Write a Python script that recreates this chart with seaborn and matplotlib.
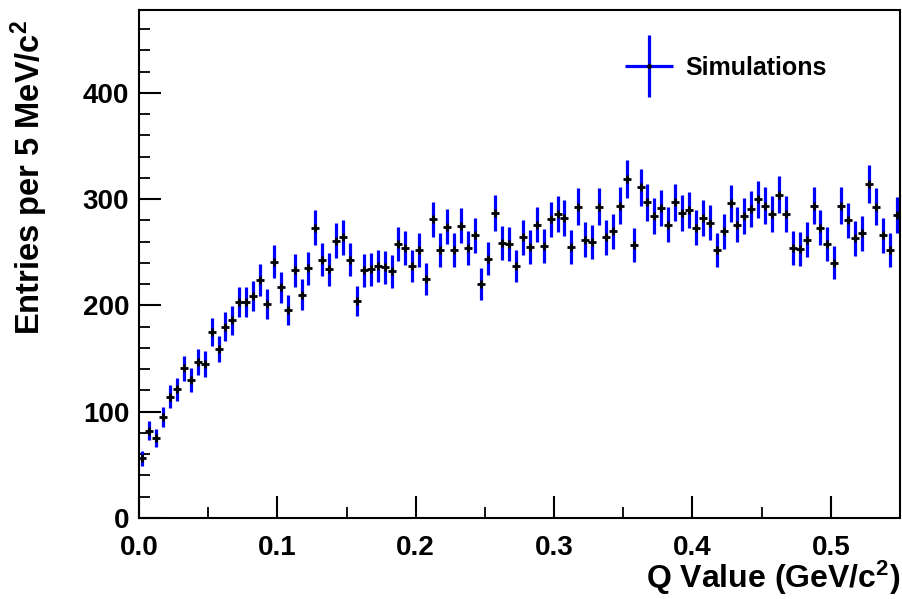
import numpy as np
import pandas as pd
import matplotlib
matplotlib.use("Agg")
import matplotlib.pyplot as plt
import seaborn as sns
from matplotlib.lines import Line2D
from matplotlib.legend_handler import HandlerTuple
from matplotlib.ticker import MultipleLocator, FormatStrFormatter

# ---- data ----
bin_width = 0.005
x_min, x_max = 0.0, 0.55
counts = [56, 82, 75, 95, 114, 121, 141, 130, 147, 145, 175, 159, 180, 186, 203, 203, 209, 224, 201, 241, 217, 196,
          233, 210, 235, 273, 243, 234, 261, 264, 243, 204, 233, 234, 237, 236, 232, 258, 254, 237, 252, 225,
          281, 252, 274, 252, 275, 254, 266, 220, 244, 287, 259, 258, 237, 264, 255, 276, 256, 281, 286, 282, 255, 293,
          262, 260, 293, 264, 270, 294, 319, 257, 311, 297, 284, 292, 276, 297, 287, 290, 273, 282, 278, 252, 270,
          296, 276, 284, 291, 300, 294, 286, 304, 286, 254, 253, 262, 294, 273, 258, 240, 294, 280, 263, 268, 314, 293, 266, 252, 285]
x_ticks = [0.0, 0.1, 0.2, 0.3, 0.4, 0.5]
y_ticks = [0, 100, 200, 300, 400]
series_label = "Simulations"
x_label = "Q Value (GeV/c$^{2}$)"
y_label = "Entries per 5 MeV/c$^{2}$"

edges = np.linspace(x_min, x_max, len(counts) + 1)
centers = (edges[:-1] + edges[1:]) / 2
df = pd.DataFrame({"q": centers, "n": counts})
df["err"] = np.sqrt(df["n"])

sns.set_theme(style="ticks")
plt.rcParams["font.family"] = ["Liberation Sans", "DejaVu Sans"]
plt.rcParams["font.weight"] = "bold"
plt.rcParams["text.color"] = "black"
plt.rcParams["axes.labelcolor"] = "black"
plt.rcParams["mathtext.fontset"] = "custom"
plt.rcParams["mathtext.rm"] = "Liberation Sans:bold"
plt.rcParams["mathtext.bf"] = "Liberation Sans:bold"
plt.rcParams["mathtext.default"] = "bf"

fig = plt.figure(figsize=(9.03, 5.99), dpi=100)
ax = fig.add_axes([139 / 903, 81 / 599, (900 - 139) / 903, (518 - 10) / 599])

blue = (0, 0, 1)
ax.errorbar(df["q"], df["n"], yerr=df["err"], fmt="none", ecolor=blue,
            elinewidth=2.3, capsize=0, zorder=2)
sns.scatterplot(data=df, x="q", y="n", marker="+", color="black", s=40,
                linewidth=2.0, ax=ax, zorder=3, legend=False)

ax.set_xlim(x_min, x_max)
ax.set_ylim(0, 478)
ax.set_xticks(x_ticks)
ax.set_yticks(y_ticks)
ax.xaxis.set_major_formatter(FormatStrFormatter("%.1f"))
ax.xaxis.set_minor_locator(MultipleLocator(0.05))
ax.yaxis.set_minor_locator(MultipleLocator(20))

ax.tick_params(which="both", direction="in", top=False, right=False, colors="black",
               labelsize=20)
ax.tick_params(which="major", length=16, width=1.5)
ax.tick_params(which="minor", length=8, width=1.3)
ax.tick_params(axis="x", which="major", pad=12)
ax.tick_params(axis="y", which="major", pad=7)
for lab in ax.get_xticklabels() + ax.get_yticklabels():
    lab.set_fontweight("bold")
for sp in ax.spines.values():
    sp.set_linewidth(1.5)
    sp.set_color("black")

ax.set_xlabel(x_label, fontsize=23, fontweight="bold", loc="right", color="black")
ax.xaxis.set_label_coords(1.0, -0.081)
ax.set_ylabel(y_label, fontsize=23.5, fontweight="bold", loc="top", color="black")
ax.yaxis.set_label_coords(-0.117, 0.98)

h_v = Line2D([], [], color=blue, marker="|", markersize=44, markeredgewidth=2.3, linestyle="none")
h_h = Line2D([], [], color=blue, marker="_", markersize=34, markeredgewidth=2.3, linestyle="none")
h_c = Line2D([], [], color="black", marker="o", markersize=2.5, linestyle="none")
fig.legend([(h_v, h_h, h_c)], [series_label], handler_map={tuple: HandlerTuple(ndivide=1, pad=0)},
           loc="center left", bbox_to_anchor=(624 / 903, 1 - 68 / 599), frameon=False,
           prop={"size": 18, "weight": "bold"}, handlelength=2.0, handletextpad=0.45,
           borderpad=0, borderaxespad=0, numpoints=1, labelcolor="black")

fig.savefig("out.png", dpi=100)
